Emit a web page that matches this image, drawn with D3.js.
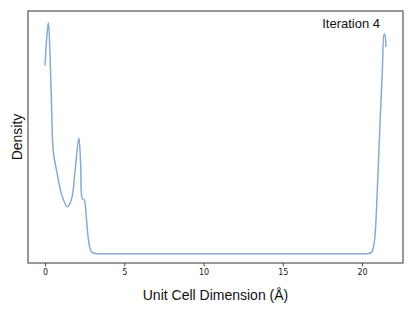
<!DOCTYPE html>
<html><head><meta charset="utf-8">
<script src="https://cdn.jsdelivr.net/npm/d3@7"></script>
<style>body{margin:0;background:#fff}svg{display:block}</style>
</head><body>
<script>
// Data (x in Å, density in relative units)
const xValues = [0, 0.1, 0.21, 0.32, 0.42, 0.52, 0.74, 1.05, 1.41, 1.68, 1.89, 2.13, 2.25, 2.35, 2.48, 2.59, 2.73, 2.85, 2.95, 3.1, 3.27, 4, 5, 6, 7, 8, 9, 10, 11, 12, 13, 14, 15, 16, 17, 18, 19, 20, 20.4, 20.61, 20.72, 20.82, 20.97, 21.14, 21.28, 21.39, 21.46, 21.51];
const densityValues = [0.814, 0.93, 1.0, 0.85, 0.618, 0.443, 0.356, 0.255, 0.203, 0.239, 0.356, 0.501, 0.386, 0.239, 0.232, 0.168, 0.065, 0.02, 0.007, 0.002, 0.0, 0.0, 0.0, 0.0, 0.0, 0.0, 0.0, 0.0, 0.0, 0.0, 0.0, 0.0, 0.0, 0.0, 0.0, 0.0, 0.0, 0.0, 0.001, 0.007, 0.03, 0.08, 0.283, 0.573, 0.79, 0.952, 0.94, 0.894];
const xTicks = [0, 5, 10, 15, 20];
const title = "Iteration 4";
const xLabel = "Unit Cell Dimension (Å)";
const yLabel = "Density";

const W = 415, H = 311;
const m = {left: 28, top: 11, right: 403, bottom: 263};
const svg = d3.select("body").append("svg").attr("width", W).attr("height", H);

const xe = d3.extent(xValues), ye = d3.extent(densityValues);
const xm = (xe[1]-xe[0])*0.05, ymr = (ye[1]-ye[0])*0.05;
const x = d3.scaleLinear().domain([xe[0]-xm, xe[1]+xm]).range([m.left, m.right]);
const y = d3.scaleLinear().domain([ye[0]-ymr*0.8, ye[1]+ymr]).range([m.bottom, m.top]);

const data = xValues.map((v,i)=>[v, densityValues[i]]);
svg.append("path").datum(data)
  .attr("fill","none").attr("stroke","#8aaacd").attr("stroke-width",1.5)
  .attr("d", d3.line().x(d=>x(d[0])).y(d=>y(d[1])).curve(d3.curveCatmullRom.alpha(0.5)));

const xAxis = svg.append("g").attr("transform",`translate(0,${m.bottom})`)
  .call(d3.axisBottom(x).tickValues(xTicks).tickSize(3.5).tickPadding(3).tickFormat(d3.format("d")));
xAxis.select(".domain").remove();
xAxis.selectAll("line").attr("stroke","#222").attr("stroke-width",0.8);
xAxis.selectAll("text").attr("font-family","DejaVu Sans").attr("font-size","8px").attr("fill","#222");

svg.append("rect").attr("x",m.left).attr("y",m.top).attr("width",m.right-m.left).attr("height",m.bottom-m.top)
  .attr("fill","none").attr("stroke","#333").attr("stroke-width",1);

svg.append("text").attr("x",(m.left+m.right)/2).attr("y",300).attr("text-anchor","middle")
  .attr("font-family","Liberation Sans").attr("font-size","14px").attr("fill","#111").text(xLabel);
svg.append("text").attr("transform",`translate(22,${(m.top+m.bottom)/2}) rotate(-90)`).attr("text-anchor","middle")
  .attr("font-family","Liberation Sans").attr("font-size","14px").attr("fill","#111").text(yLabel);
svg.append("text").attr("x",380).attr("y",28).attr("text-anchor","end")
  .attr("font-family","Liberation Sans").attr("font-size","13px").attr("fill","#111").text(title);
</script>
</body></html>
